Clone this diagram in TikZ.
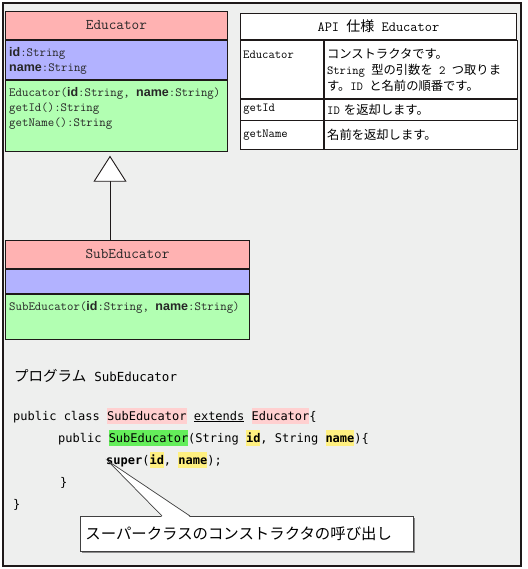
\documentclass[tikz,border=0pt]{standalone}
\usepackage{fontspec}
\newfontfamily\jpfont{Noto Sans CJK JP}
\newfontfamily\codefont{DejaVu Sans Mono}
\newfontfamily\gothicbold{Liberation Sans}
\usetikzlibrary{arrows.meta,positioning,calc,shadows}

\definecolor{bgframe}{RGB}{238,239,238}
\definecolor{umlhead}{RGB}{255,178,178}
\definecolor{umlattr}{RGB}{178,178,255}
\definecolor{umlops}{RGB}{178,255,178}
\definecolor{hlpink}{RGB}{255,208,208}
\definecolor{hlgreen}{RGB}{100,238,90}
\definecolor{hlyellow}{RGB}{255,240,128}
\definecolor{linedark}{RGB}{30,25,25}

\newcommand{\jtxt}[1]{{\jpfont #1}}
\newcommand{\bname}[1]{{\gothicbold\bfseries #1}}
\newcommand{\hlbox}[2]{{\setlength{\fboxsep}{0pt}\colorbox{#1}{\rule[-4pt]{0pt}{16pt}#2}}}

\tikzset{
  compart/.style={draw=linedark, line width=0.9pt, anchor=north west, inner sep=0pt},
  headtext/.style={text=black!85, font=\fontsize{14.8}{17}\ttfamily},
  umltext/.style={anchor=north west, align=left, inner xsep=4pt, inner ysep=7pt,
    text=black!85, font=\fontsize{12.5}{15.3}\ttfamily},
  cell/.style={draw=linedark, line width=0.8pt, fill=white, anchor=north west,
    inner xsep=3pt, inner ysep=1pt, font=\fontsize{12.3}{16}\ttfamily},
  celltext/.style={anchor=north west, align=left, inner xsep=3pt, inner ysep=8.5pt,
    font=\fontsize{12.3}{16}\ttfamily},
  codeline/.style={anchor=base west, inner sep=0pt, font=\codefont\fontsize{12}{14}\selectfont},
  inherit/.style={draw=linedark, line width=0.9pt,
    -{Triangle[length=26pt,width=33pt,fill=white]}, shorten >=4pt},
  callbox/.style={draw=black!75, line width=0.7pt, fill=white, anchor=north west,
    text width=323pt, align=left, inner xsep=5pt, inner ysep=0pt, minimum height=35pt,
    font=\jpfont\fontsize{15.4}{18}\selectfont,
    drop shadow={shadow xshift=1.5pt, shadow yshift=-1.5pt, fill=black!45, opacity=1}}
}

\begin{document}
\begin{tikzpicture}[x=1pt,y=-1pt]
  \useasboundingbox (0,0) rectangle (527,569); % 画像全体の大きさ
  \fill[white] (0,0) rectangle (527,569); % 外側の白い余白
  \filldraw[fill=bgframe, draw=linedark, line width=1.2pt] (3,3) rectangle (521,566); % 灰色の枠

  % クラス Educator
  \node[compart, fill=umlhead, minimum width=222pt, minimum height=28pt, headtext] (eduhead) at (5,11) {Educator}; % クラス名
  \node[compart, fill=umlattr, minimum width=222pt, minimum height=39pt] (eduattr) at (eduhead.south west) {}; % 属性欄
  \node[umltext] (eduattrtext) at (eduattr.north west) {\bname{id}:String\\\bname{name}:String}; % 属性
  \node[compart, fill=umlops, minimum width=222pt, minimum height=71pt] (eduops) at (eduattr.south west) {}; % 操作欄
  \node[umltext] (eduopstext) at (eduops.north west) {Educator(\bname{id}:String, \bname{name}:String)\\getId():String\\getName():String}; % 操作

  % クラス SubEducator
  \node[compart, fill=umlhead, minimum width=244pt, minimum height=28pt, headtext] (subhead) at (5,240) {SubEducator}; % クラス名
  \node[compart, fill=umlattr, minimum width=244pt, minimum height=24pt] (subattr) at (subhead.south west) {}; % 属性欄（空）
  \node[compart, fill=umlops, minimum width=244pt, minimum height=45pt] (subops) at (subattr.south west) {}; % 操作欄
  \node[umltext] (subopstext) at (subops.north west) {SubEducator(\bname{id}:String, \bname{name}:String)}; % コンストラクタ

  \draw[inherit] ([xshift=105pt]subhead.north west) -- ([xshift=105pt]eduops.south west); % 継承の矢印

  % API 仕様の表
  \node[cell, minimum width=276pt, minimum height=26pt, font=\fontsize{14}{17}\ttfamily] (apihead) at (240,13) {API \jtxt{仕様} Educator}; % 表の見出し
  \node[cell, minimum width=83pt, minimum height=58pt] (apiedu) at (apihead.south west) {}; % 1行目左
  \node[celltext, inner ysep=11pt] (apiedutext) at (apiedu.north west) {Educator};
  \node[cell, minimum width=193pt, minimum height=58pt] (apiedudesc) at (apiedu.north east) {}; % 1行目右
  \node[celltext] (apiedudesctext) at (apiedudesc.north west) {\jtxt{コンストラクタです。}\\String \jtxt{型の引数を} 2 \jtxt{つ取りま}\\\jtxt{す。}ID \jtxt{と名前の順番です。}};
  \node[cell, text width=77pt, align=left, minimum height=21pt] (apiid) at (apiedu.south west) {getId}; % 2行目左
  \node[cell, text width=187pt, align=left, minimum height=21pt] (apiiddesc) at (apiid.north east) {ID \jtxt{を返却します。}}; % 2行目右
  \node[cell, text width=77pt, align=left, minimum height=29pt] (apiname) at (apiid.south west) {getName}; % 3行目左
  \node[cell, text width=187pt, align=left, minimum height=29pt] (apinamedesc) at (apiname.north east) {\jtxt{名前を返却します。}}; % 3行目右

  % プログラム
  \node[anchor=base west, inner sep=0pt] (progtitle) at (14,381) {\jpfont\fontsize{14.5}{17}\selectfont プログラム\hspace{8pt}{\codefont\fontsize{12.5}{15}\selectfont SubEducator}}; % 見出し
  \node[codeline] (clsline) at (13,420) {public class \hlbox{hlpink}{SubEducator} \underline{extends} \hlbox{hlpink}{Educator}\{}; % クラス宣言
  \node[codeline] (ctorline) at (58,442) {public \hlbox{hlgreen}{SubEducator}(String \hlbox{hlyellow}{\bfseries id}, String \hlbox{hlyellow}{\bfseries name})\{}; % コンストラクタ
  \node[codeline] (superline) at (106,464) {{\bfseries super}(\hlbox{hlyellow}{\bfseries id}, \hlbox{hlyellow}{\bfseries name});}; % super の呼び出し
  \node[codeline] (ctorend) at (60,486) {\}}; % コンストラクタの終わり
  \node[codeline] (clsend) at (13,508) {\}}; % クラスの終わり

  % 吹き出し
  \coordinate (tip) at ([xshift=2pt,yshift=3pt]superline.base west); % 吹き出しの先端
  \node[callbox] (yobidashi) at (80,516) {スーパークラスのコンストラクタの呼び出し}; % 吹き出しの本体
  \fill[white] ([xshift=82pt,yshift=-1pt]yobidashi.north west) -- (tip) -- ([xshift=110pt,yshift=-1pt]yobidashi.north west) -- cycle; % 吹き出しの口
  \draw[black!75, line width=0.7pt] ([xshift=82pt]yobidashi.north west) -- (tip) -- ([xshift=110pt]yobidashi.north west); % 口の輪郭
\end{tikzpicture}
\end{document}
